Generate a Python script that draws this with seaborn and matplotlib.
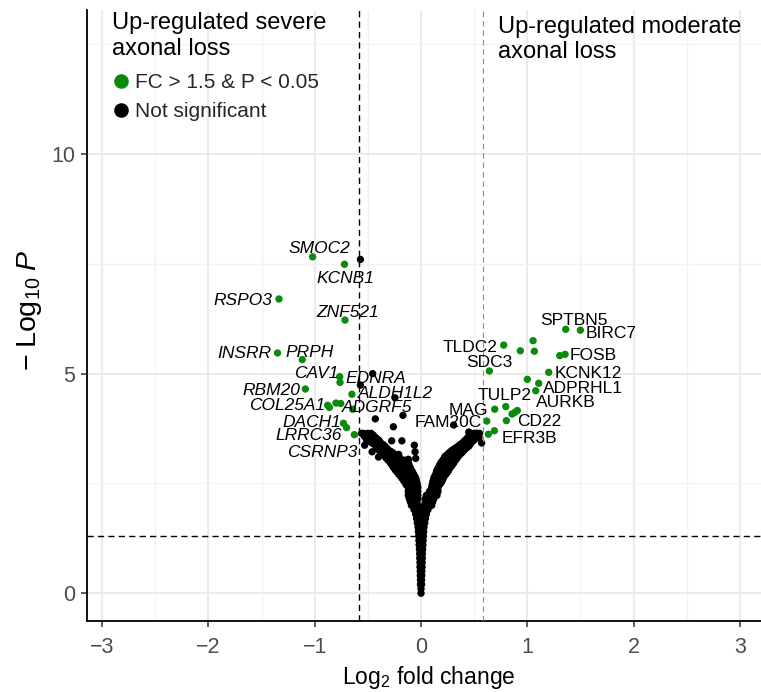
import matplotlib
matplotlib.use("Agg")
import matplotlib.pyplot as plt
import seaborn as sns
import pandas as pd
from matplotlib.lines import Line2D

# ---------------- data (log2 fold change, -log10 P) ----------------
sig_x = [-1.02, -0.72, -1.336, -0.715, -1.35, -1.117, -0.765, -0.762, -1.088, -0.65,
         -0.878, -0.862, -0.80, -0.755, -0.643, -0.73, -0.70, -0.627,
         1.361, 1.499, 0.778, 1.054, 0.934, 1.066, 1.305, 1.355, 0.643, 1.201,
         1.0, 1.107, 1.079, 0.797, 0.693, 0.906, 0.884, 0.856, 0.803, 0.618,
         0.69, 0.633]
sig_y = [7.66, 7.49, 6.70, 6.22, 5.47, 5.32, 4.93, 4.80, 4.65, 4.53,
         4.28, 4.23, 4.33, 4.32, 4.19, 3.87, 3.77, 3.61,
         6.01, 5.99, 5.65, 5.75, 5.52, 5.51, 5.41, 5.44, 5.06, 5.03,
         4.87, 4.78, 4.61, 4.25, 4.19, 4.16, 4.12, 4.08, 3.93, 3.92,
         3.70, 3.62]

# non-significant genes, read row by row from the dense cloud (row -log10 P, row fold changes)
stem_y = [0.0, 0.1, 0.2, 0.3, 0.4, 0.5, 0.6, 0.7, 0.8, 0.9, 1.0, 1.1, 1.2, 1.3, 1.4,
          1.5, 1.6, 1.7, 1.8, 1.9, 2.0, 2.08]
stem_x = [[0], [0], [-0.005, 0.005], [-0.005, 0.005], [-0.007, 0.007], [-0.008, 0.008],
          [-0.01, 0.01], [-0.01, 0.01], [-0.012, 0, 0.012], [-0.013, 0, 0.013],
          [-0.015, 0, 0.015], [-0.018, 0, 0.018], [-0.02, 0, 0.02], [-0.022, 0, 0.022],
          [-0.025, 0, 0.025], [-0.028, 0, 0.028], [-0.035, -0.01, 0.01, 0.035],
          [-0.042, -0.014, 0.014, 0.042], [-0.05, -0.017, 0.017, 0.05],
          [-0.065, -0.03, 0, 0.03, 0.065], [-0.09, -0.06, -0.03, 0.03, 0.06, 0.10],
          [-0.10, -0.07, -0.04, 0.04, 0.07, 0.11]]

arm_y = [2.15, 2.23, 2.32, 2.41, 2.47, 2.52, 2.57, 2.62, 2.67, 2.71, 2.76, 2.80, 2.85,
         2.89, 2.94, 2.98, 3.03, 3.08, 3.14, 3.19, 3.23, 3.27, 3.31, 3.35, 3.39, 3.42,
         3.46, 3.49, 3.53, 3.57, 3.60, 3.64]
left_arm_x = [[-0.11, -0.08, -0.05, -0.03], [-0.12, -0.09, -0.06, -0.03],
              [-0.12, -0.09, -0.06, -0.03], [-0.12, -0.09, -0.06, -0.03],
              [-0.14, -0.11, -0.08, -0.05, -0.035], [-0.15, -0.12, -0.09, -0.06, -0.04],
              [-0.165, -0.135, -0.105, -0.075, -0.045], [-0.18, -0.15, -0.12, -0.09, -0.05],
              [-0.195, -0.165, -0.135, -0.10, -0.06], [-0.21, -0.18, -0.15, -0.11, -0.07],
              [-0.225, -0.195, -0.16, -0.12, -0.08], [-0.24, -0.21, -0.17, -0.13, -0.09],
              [-0.255, -0.22, -0.18, -0.14, -0.10], [-0.265, -0.23, -0.19, -0.15, -0.11],
              [-0.28, -0.24, -0.20, -0.16, -0.115], [-0.29, -0.25, -0.21, -0.16, -0.12],
              [-0.31, -0.27, -0.23, -0.19, -0.16], [-0.33, -0.29, -0.25, -0.20],
              [-0.35, -0.31, -0.27, -0.24], [-0.37, -0.33, -0.29, -0.26],
              [-0.385, -0.35, -0.315, -0.285], [-0.40, -0.365, -0.33, -0.31],
              [-0.41, -0.375, -0.345, -0.325], [-0.42, -0.39, -0.36, -0.34],
              [-0.44, -0.41, -0.38, -0.36], [-0.46, -0.43, -0.40, -0.38],
              [-0.485, -0.45, -0.42, -0.39], [-0.51, -0.47, -0.43, -0.40],
              [-0.52, -0.48, -0.45, -0.42], [-0.53, -0.49, -0.46, -0.44],
              [-0.54, -0.50, -0.47, -0.45], [-0.54, -0.50, -0.47]]
right_arm_x = [[0.04, 0.07, 0.10, 0.12], [0.05, 0.08, 0.115, 0.15],
               [0.08, 0.11, 0.135, 0.16], [0.10, 0.12, 0.14, 0.16],
               [0.105, 0.13, 0.15, 0.175], [0.11, 0.135, 0.16, 0.19],
               [0.115, 0.145, 0.17, 0.20], [0.12, 0.15, 0.18, 0.21],
               [0.13, 0.16, 0.19, 0.22], [0.14, 0.17, 0.205, 0.235],
               [0.145, 0.18, 0.215, 0.25], [0.15, 0.19, 0.225, 0.26],
               [0.16, 0.20, 0.235, 0.27], [0.17, 0.21, 0.25, 0.285],
               [0.18, 0.22, 0.26, 0.30], [0.19, 0.23, 0.27, 0.31],
               [0.205, 0.245, 0.285, 0.325], [0.22, 0.26, 0.30, 0.34],
               [0.24, 0.28, 0.32, 0.36], [0.26, 0.30, 0.34, 0.38],
               [0.28, 0.32, 0.36, 0.395], [0.30, 0.34, 0.38, 0.41],
               [0.325, 0.36, 0.40, 0.43], [0.35, 0.385, 0.42, 0.45],
               [0.37, 0.40, 0.43, 0.46], [0.39, 0.42, 0.45, 0.47],
               [0.405, 0.435, 0.46, 0.485], [0.42, 0.45, 0.475, 0.50],
               [0.435, 0.465, 0.49, 0.515], [0.45, 0.48, 0.505, 0.53],
               [0.46, 0.49, 0.515, 0.54], [0.47, 0.50, 0.525, 0.55]]

scatter_x = [-0.57, -0.455, -0.57, -0.245, -0.43, -0.17, -0.26, -0.276, -0.18, -0.063,
             -0.056, -0.21, -0.12, -0.05, -0.56, -0.46, -0.53, -0.46, -0.42, -0.40,
             0.307, 0.449, 0.52, 0.57, 0.41, 0.226, 0.49, 0.545]
scatter_y = [7.60, 5.0, 4.74, 4.45, 3.97, 4.05, 3.79, 3.47, 3.47, 3.37,
             3.22, 3.16, 3.05, 3.07, 3.64, 3.60, 3.37, 3.22, 3.33, 3.10,
             3.83, 3.67, 3.64, 3.42, 3.45, 3.12, 3.60, 3.55]

# gene labels (text anchor: centre x, baseline y)
left_genes = ["SMOC2", "KCNB1", "RSPO3", "ZNF521", "INSRR", "PRPH", "CAV1", "EDNRA",
              "RBM20", "ALDH1L2", "COL25A1", "ADGRF5", "DACH1", "LRRC36", "CSRNP3"]
left_lx = [-0.960, -0.715, -1.679, -0.691, -1.660, -1.049, -0.988, -0.423,
           -1.411, -0.240, -1.256, -0.409, -1.030, -1.058, -0.927]
left_ly = [7.748, 7.064, 6.563, 6.290, 5.356, 5.379, 4.901, 4.787,
           4.514, 4.445, 4.172, 4.127, 3.785, 3.489, 3.102]
right_genes = ["FAM20C", "SPTBN5", "BIRC7", "TLDC2", "SDC3", "FOSB", "KCNK12", "ADPRHL1",
               "TULP2", "AURKB", "MAG", "CD22", "EFR3B"]
right_lx = [0.259, 1.439, 1.792, 0.461, 0.640, 1.623, 1.576, 1.524,
            0.790, 1.364, 0.442, 1.110, 1.021]
right_ly = [3.785, 6.108, 5.812, 5.493, 5.151, 5.311, 4.901, 4.559,
            4.400, 4.240, 4.058, 3.808, 3.421]

fc_cut = 0.585
p_cut = 1.301
x_ticks = [-3, -2, -1, 0, 1, 2, 3]
y_ticks = [0, 5, 10]
legend_labels = ["FC > 1.5 & P < 0.05", "Not significant"]
title_left = "Up-regulated severe\naxonal loss"
title_right = "Up-regulated moderate\naxonal loss"

# ---------------- assemble table ----------------
ns_x, ns_y = [], []
for yy, xs in list(zip(stem_y, stem_x)) + list(zip(arm_y, left_arm_x)) + list(zip(arm_y, right_arm_x)):
    ns_x += xs
    ns_y += [yy] * len(xs)
ns_x += scatter_x
ns_y += scatter_y

df = pd.concat([pd.DataFrame({"x": ns_x, "y": ns_y, "grp": "ns"}),
                pd.DataFrame({"x": sig_x, "y": sig_y, "grp": "sig"})], ignore_index=True)

# ---------------- style ----------------
sns.set_theme(style="white")
plt.rcParams["font.family"] = ["Liberation Sans", "DejaVu Sans"]
plt.rcParams["mathtext.fontset"] = "custom"
plt.rcParams["mathtext.rm"] = "Liberation Sans"
plt.rcParams["mathtext.it"] = "Liberation Sans:italic"
plt.rcParams["mathtext.default"] = "regular"

GREEN = "#0B8B0B"
W, H = 761, 692
fig = plt.figure(figsize=(W / 100, H / 100), dpi=100)
ax = fig.add_axes([87 / W, (H - 621) / H, (771 - 87) / W, (621 - 9.6) / H])

sns.scatterplot(data=df, x="x", y="y", hue="grp", palette={"ns": "black", "sig": GREEN},
                s=28, linewidth=0, legend=False, ax=ax, zorder=3)

ax.set_xlim(-3.142, 3.292)
ax.set_ylim(-0.633, 13.29)
ax.set_xticks(x_ticks)
ax.set_xticklabels([str(t).replace("-", "\u2212") for t in x_ticks])
ax.set_yticks(y_ticks)
ax.set_xticks([t + 0.5 for t in x_ticks[:-1]], minor=True)
ax.set_yticks([2.5, 7.5, 12.5], minor=True)
ax.grid(which="major", color="#EBEBEB", lw=1.5, zorder=0)
ax.grid(which="minor", color="#F2F2F2", lw=1.0, zorder=0)
ax.set_axisbelow(True)

for s in ["top", "right"]:
    ax.spines[s].set_visible(False)
for s in ["left", "bottom"]:
    ax.spines[s].set_color("black")
    ax.spines[s].set_linewidth(1.3)

ax.tick_params(which="major", bottom=True, left=True, direction="out", length=4.3, width=1.1,
               color="#333333", labelcolor="#4D4D4D", labelsize=15.5)
ax.tick_params(axis="x", pad=7.5)
ax.tick_params(axis="y", pad=4)
ax.tick_params(which="minor", length=0)

ax.axvline(-fc_cut, color="black", ls=(0, (4.5, 3)), lw=1.0, zorder=4)
ax.axvline(fc_cut, color="#8C8C8C", ls=(0, (5, 3.5)), lw=0.8, zorder=4)
ax.axhline(p_cut, color="black", ls=(0, (4.5, 3)), lw=1.0, zorder=4)

ax.set_xlabel(r"$\mathrm{Log}_{2}$ fold change", fontsize=16.5, color="black", labelpad=4)
ax.set_ylabel(r"$-\;\mathrm{Log}_{10}\;\mathit{P}$", fontsize=20.5, color="black")
ax.yaxis.set_label_coords(-0.063, 0.509)

for g, lx, ly in zip(left_genes, left_lx, left_ly):
    ax.text(lx, ly, g, ha="center", va="baseline", fontsize=12.5, fontstyle="italic",
            color="black", zorder=5)
for g, lx, ly in zip(right_genes, right_lx, right_ly):
    ax.text(lx, ly, g, ha="center", va="baseline", fontsize=12.5, color="black", zorder=5)

fig.text(112 / W, 1 - 12.5 / H, title_left, ha="left", va="top", fontsize=17,
         linespacing=1.2, color="black")
fig.text(498 / W, 1 - 16 / H, title_right, ha="left", va="top", fontsize=17,
         linespacing=1.2, color="black")

handles = [Line2D([], [], marker="o", ls="", color=GREEN, markersize=10.5, markeredgewidth=0),
           Line2D([], [], marker="o", ls="", color="black", markersize=10.5, markeredgewidth=0)]
fig.legend(handles, legend_labels, loc="upper left", bbox_to_anchor=(111 / W, 1 - 73 / H),
           bbox_transform=fig.transFigure, frameon=False, fontsize=15, handlelength=1.0,
           handletextpad=0.15, borderpad=0, borderaxespad=0, labelspacing=0.5)

fig.savefig("out.png", dpi=100)
